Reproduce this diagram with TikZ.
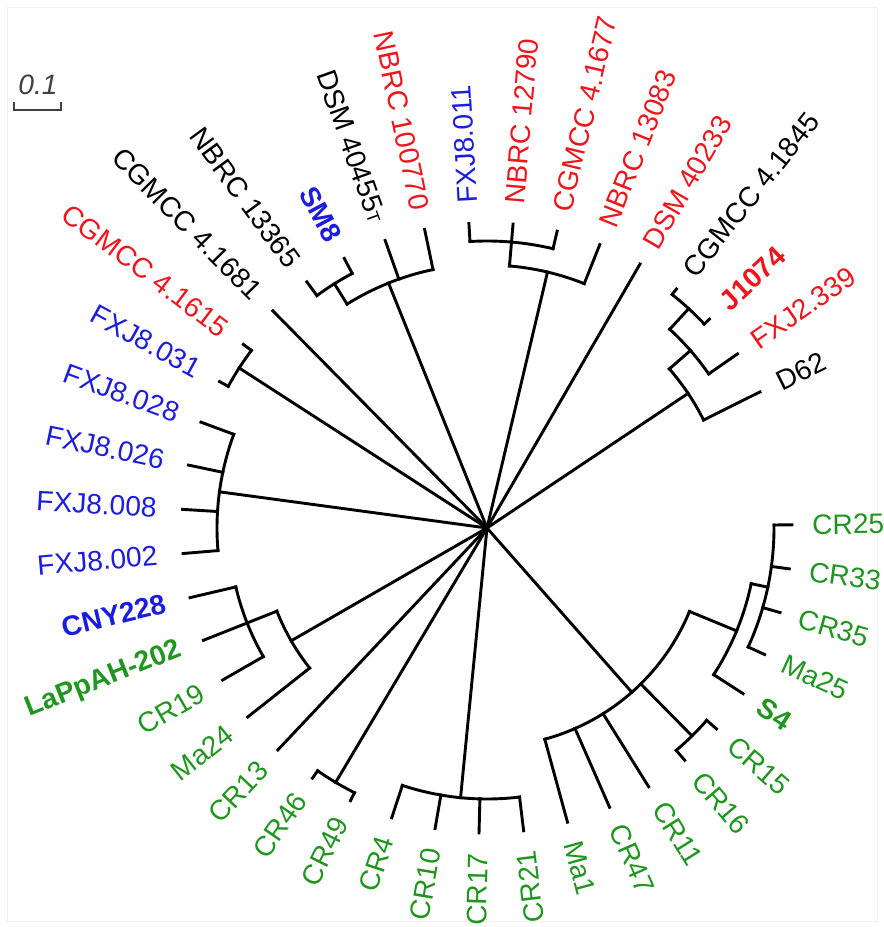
\documentclass[tikz,border=0pt]{standalone}
\usepackage{fontspec}
\setmainfont{Liberation Sans}
\usepackage{tikz}

\definecolor{strRed}{RGB}{238,22,28}
\definecolor{strBlue}{RGB}{28,28,222}
\definecolor{strGreen}{RGB}{32,150,32}

\tikzset{
  branch/.style={line width=1.65pt,line cap=rect},
  labR/.style={anchor=west,inner sep=0pt,font=\fontsize{16}{19}\selectfont},
  labL/.style={anchor=east,inner sep=0pt,font=\fontsize{16}{19}\selectfont},
  tBlack/.style={text=black},
  tRed/.style={text=strRed},
  tBlue/.style={text=strBlue},
  tGreen/.style={text=strGreen},
  tRedB/.style={text=strRed,font=\fontsize{16}{19}\selectfont\bfseries},
  tBlueB/.style={text=strBlue,font=\fontsize{16}{19}\selectfont\bfseries},
  tGreenB/.style={text=strGreen,font=\fontsize{16}{19}\selectfont\bfseries},
}

\begin{document}
\begin{tikzpicture}[x=0.2mm,y=0.2mm]
  \useasboundingbox (-487,-399) rectangle (396,528);
  \draw[black!6] (-480,-393) rectangle (390,521);
  \coordinate (root) at (0,0);

  % scale bar
  \draw[line width=1.1pt,black!75] (-473,426) -- (-473,418) -- (-426,418) -- (-426,426);
  \node[font=\fontsize{16}{19}\selectfont\itshape,text=black!75] (sbar) at (-449,443) {0.1};

  % tips and labels, right half
  \foreach \ang/\rin/\nm/\txt/\st in {
      93.4/287/fxjA/FXJ8.011/tBlue,
      85.1/287/nbrcA/NBRC 12790/tRed,
      76.7/287/cgmA/CGMCC 4.1677/tRed,
      68.3/263/nbrcB/NBRC 13083/tRed,
      59.9/0/dsmA/DSM 40233/tRed,
      51.6/298/cgmB/CGMCC 4.1845/tBlack,
      43.2/298/jA/J1074/tRedB,
      34.8/270/fxjB/FXJ2.339/tRed,
      26.5/242/dA/D62/tBlack,
      0.6/287/cr25/CR25/tGreen,
      -7.7/287/cr33/CR33/tGreen,
      -16.1/287/cr35/CR35/tGreen,
      -24.5/287/ma25/Ma25/tGreen,
      -32.9/270/s4/S4/tGreenB,
      -41.2/292/cr15/CR15/tGreen,
      -49.6/292/cr16/CR16/tGreen,
      -58.0/219/cr11/CR11/tGreen,
      -66.3/219/cr47/CR47/tGreen,
      -74.7/219/ma1/Ma1/tGreen}{
    \draw[branch] (\ang:\rin) -- (\ang:305);
    \node[labR,\st,rotate=\ang] (\nm) at (\ang:325) {\txt};
  }

  % tips and labels, left half
  \foreach \ang/\rin/\nm/\txt/\st in {
      -83.1/271/cr21/CR21/tGreen,
      -91.5/271/cr17/CR17/tGreen,
      -99.8/271/cr10/CR10/tGreen,
      -108.2/271/cr4/CR4/tGreen,
      -116.6/296/cr49/CR49/tGreen,
      -124.9/296/cr46/CR46/tGreen,
      -133.3/0/cr13/CR13/tGreen,
      -141.7/226/ma24/Ma24/tGreen,
      -150.1/258/cr19/CR19/tGreen,
      -158.4/226/lap/LaPpAH-202/tGreenB,
      -166.8/258/cny/CNY228/tBlueB,
      -175.2/270/fxjC/FXJ8.002/tBlue,
      176.5/270/fxjD/FXJ8.008/tBlue,
      168.1/270/fxjE/FXJ8.026/tBlue,
      159.7/270/fxjF/FXJ8.028/tBlue,
      151.3/295/fxjG/FXJ8.031/tBlue,
      143.0/295/cgmC/CGMCC 4.1615/tRed,
      134.6/0/cgmD/CGMCC 4.1681/tBlack,
      126.2/288/nbrcC/NBRC 13365/tBlack,
      117.9/288/sm8/SM8/tBlueB,
      109.5/264/dsmB/{DSM 40455{\fontsize{10}{10}\selectfont T}}/tBlack,
      101.8/264/nbrcD/NBRC 100770/tRed}{
    \draw[branch] (\ang:\rin) -- (\ang:305);
    \node[labL,\st,rotate=\ang+180] (\nm) at (\ang:{331-6*abs(sin(\ang))}) {\txt};
  }

  % inner nodes
  \coordinate (kSM) at (111.9:264);
  \coordinate (kNB) at (76.7:263);
  \coordinate (kD62) at (33.8:242);
  \coordinate (kCR) at (-48.6:219);
  \coordinate (kCR4) at (-95.6:271);
  \coordinate (kCR46) at (-120.75:296);
  \coordinate (kMa24) at (-150.05:226);
  \coordinate (kFXJ) at (172.3:270);
  \coordinate (kFXJ31) at (147.15:295);

  \draw[branch] (root) -- (kSM);
  \draw[branch] (101.8:264) arc[start angle=101.8,end angle=122,radius=264];
  \draw[branch] (122:264) -- (122:288);
  \draw[branch] (117.9:288) arc[start angle=117.9,end angle=126.2,radius=288];

  \draw[branch] (root) -- (kNB);
  \draw[branch] (68.3:263) arc[start angle=68.3,end angle=85.1,radius=263];
  \draw[branch] (85.1:263) -- (85.1:287);
  \draw[branch] (76.7:287) arc[start angle=76.7,end angle=93.4,radius=287];

  \draw[branch] (root) -- (kD62);
  \draw[branch] (26.5:242) arc[start angle=26.5,end angle=41.1,radius=242];
  \draw[branch] (41.1:242) -- (41.1:270);
  \draw[branch] (34.8:270) arc[start angle=34.8,end angle=47.4,radius=270];
  \draw[branch] (47.4:270) -- (47.4:298);
  \draw[branch] (43.2:298) arc[start angle=43.2,end angle=51.6,radius=298];

  \draw[branch] (root) -- (kCR);
  \draw[branch] (-74.7:219) arc[start angle=-74.7,end angle=-22.4,radius=219];
  \draw[branch] (-22.4:219) -- (-22.4:270);
  \draw[branch] (-32.9:270) arc[start angle=-32.9,end angle=-11.9,radius=270];
  \draw[branch] (-11.9:270) -- (-11.9:287);
  \draw[branch] (-24.5:287) arc[start angle=-24.5,end angle=0.6,radius=287];
  \draw[branch] (-45.4:219) -- (-45.4:292);
  \draw[branch] (-49.6:292) arc[start angle=-49.6,end angle=-41.2,radius=292];

  \draw[branch] (root) -- (kCR4);
  \draw[branch] (-108.2:271) arc[start angle=-108.2,end angle=-83.1,radius=271];

  \draw[branch] (root) -- (kCR46);
  \draw[branch] (-124.9:296) arc[start angle=-124.9,end angle=-116.6,radius=296];

  \draw[branch] (root) -- (kMa24);
  \draw[branch] (-158.4:226) arc[start angle=-158.4,end angle=-141.7,radius=226];
  \draw[branch] (-166.8:258) arc[start angle=-166.8,end angle=-150.1,radius=258];

  \draw[branch] (root) -- (kFXJ);
  \draw[branch] (159.7:270) arc[start angle=159.7,end angle=184.8,radius=270];

  \draw[branch] (root) -- (kFXJ31);
  \draw[branch] (143:295) arc[start angle=143,end angle=151.3,radius=295];
\end{tikzpicture}
\end{document}
